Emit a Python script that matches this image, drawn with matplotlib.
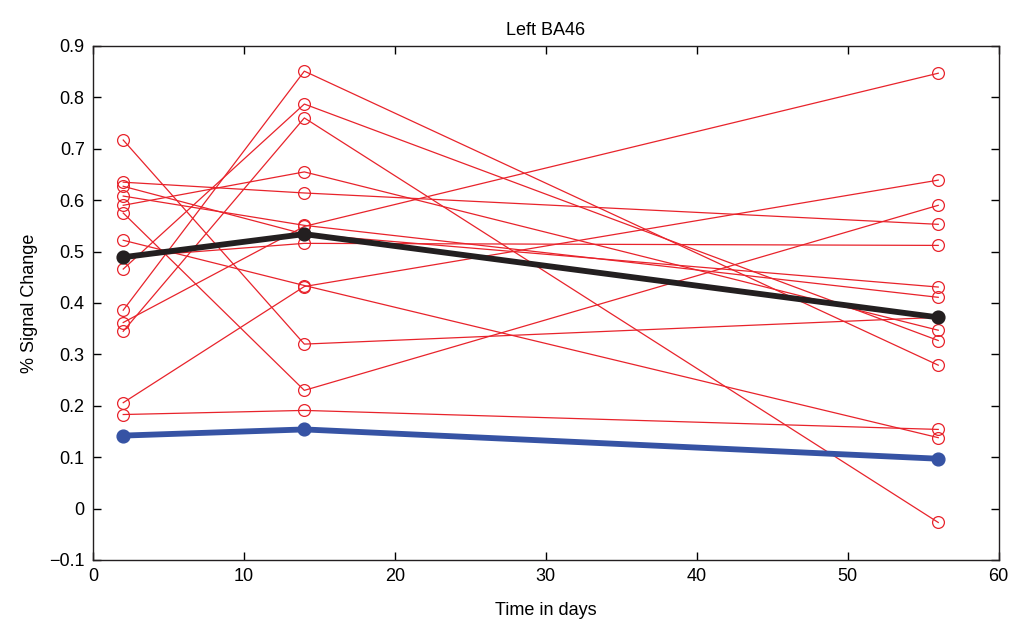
import matplotlib
matplotlib.use("Agg")
import matplotlib.pyplot as plt

days = [2, 14, 56]

# individual subjects (% signal change at days 2, 14, 56)
subjects = [
    [0.717, 0.320, 0.372],
    [0.635, 0.614, 0.553],
    [0.627, 0.534, 0.431],
    [0.608, 0.551, 0.411],
    [0.590, 0.655, 0.347],
    [0.575, 0.230, 0.590],
    [0.522, 0.434, 0.138],
    [0.489, 0.516, 0.512],
    [0.466, 0.787, 0.327],
    [0.386, 0.851, 0.279],
    [0.362, 0.549, 0.847],
    [0.345, 0.760, -0.027],
    [0.206, 0.432, 0.639],
    [0.183, 0.191, 0.154],
]
group_mean = [0.489, 0.534, 0.372]
control_mean = [0.142, 0.154, 0.097]

title = "Left BA46"
xlabel = "Time in days"
ylabel = "% Signal Change"
xticks = [0, 10, 20, 30, 40, 50, 60]
yticks = [-0.1, 0, 0.1, 0.2, 0.3, 0.4, 0.5, 0.6, 0.7, 0.8, 0.9]

plt.rcParams['font.family'] = ['Liberation Sans', 'DejaVu Sans']
fig = plt.figure(figsize=(10.19, 6.28), dpi=100)
ax = fig.add_axes([0.0913, 0.1083, 0.8887, 0.8185])

red = '#e8232b'
for s in subjects:
    ax.plot(days, s, color=red, lw=0.9, marker='o', ms=8.5, mfc='none',
            mec=red, mew=0.9, zorder=2)
ax.plot(days, group_mean, color='#231f20', lw=4.2, marker='o', ms=9.2,
        mfc='#231f20', mec='#231f20', zorder=3)
ax.plot(days, control_mean, color='#3653a4', lw=4.2, marker='o', ms=9.2,
        mfc='#3653a4', mec='#3653a4', zorder=3)

ax.set_xlim(0, 60)
ax.set_ylim(-0.1, 0.9)
ax.set_xticks(xticks)
ax.set_yticks(yticks)
ax.set_xticklabels([str(t) for t in xticks])
ax.set_yticklabels(['\u22120.1' if t < 0 else ('0' if t == 0 else f"{t:.1f}") for t in yticks])
ax.tick_params(direction='in', top=True, right=True, length=6, width=1,
               labelsize=13, pad=6)
for sp in ax.spines.values():
    sp.set_linewidth(1.0)
    sp.set_color('#231f20')
ax.set_title(title, fontsize=13, pad=8)
ax.set_xlabel(xlabel, fontsize=13, labelpad=12)
ax.set_ylabel(ylabel, fontsize=13, labelpad=8)

fig.savefig("out.png", dpi=100)
